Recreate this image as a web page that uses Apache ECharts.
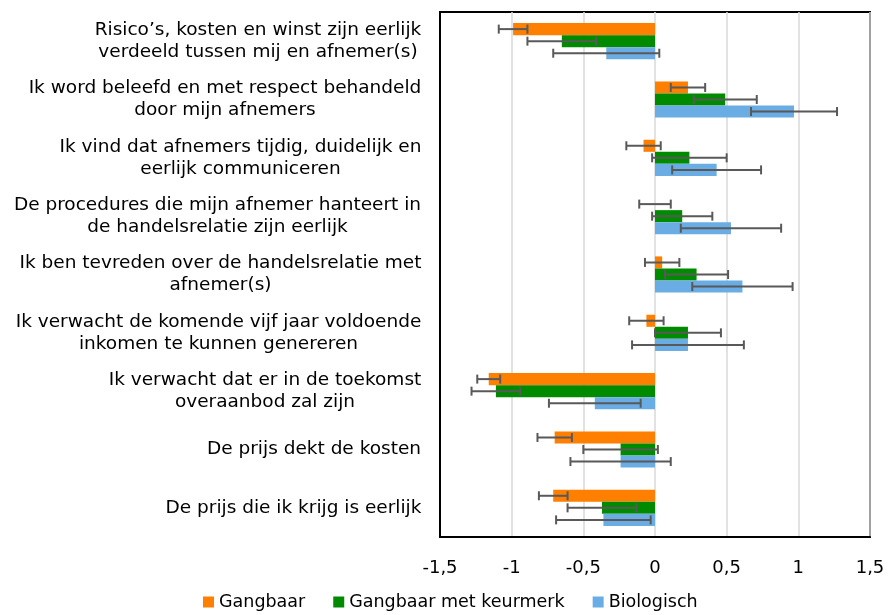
<!DOCTYPE html>
<html>
<head>
<meta charset="utf-8">
<script src="https://cdn.jsdelivr.net/npm/echarts@6/dist/echarts.min.js"></script>
<style>
  html, body { margin: 0; padding: 0; background: #fff; }
  #chart { width: 888px; height: 615px; }
</style>
</head>
<body>
<div id="chart"></div>
<script>
const categories = [
  'Risico’s, kosten en winst zijn eerlijk\nverdeeld tussen mij en afnemer(s)',
  'Ik word beleefd en met respect behandeld\ndoor mijn afnemers',
  'Ik vind dat afnemers tijdig, duidelijk en\neerlijk communiceren',
  'De procedures die mijn afnemer hanteert in\nde handelsrelatie zijn eerlijk',
  'Ik ben tevreden over de handelsrelatie met\nafnemer(s)',
  'Ik verwacht de komende vijf jaar voldoende\ninkomen te kunnen genereren',
  'Ik verwacht dat er in de toekomst\noveraanbod zal zijn',
  'De prijs dekt de kosten',
  'De prijs die ik krijg is eerlijk'
]
const seriesNames = ['Gangbaar', 'Gangbaar met keurmerk', 'Biologisch']
const gangbaar = [-0.99, 0.23, -0.08, 0.0, 0.05, -0.06, -1.16, -0.70, -0.71]
const keurmerk = [-0.65, 0.49, 0.24, 0.19, 0.29, 0.23, -1.11, -0.24, -0.37]
const biologisch = [-0.34, 0.97, 0.43, 0.53, 0.61, 0.23, -0.42, -0.24, -0.36]
const gangbaarErr = [0.10, 0.12, 0.12, 0.11, 0.12, 0.12, 0.08, 0.12, 0.10]
const keurmerkErr = [0.24, 0.22, 0.26, 0.21, 0.22, 0.23, 0.17, 0.26, 0.24]
const biologischErr = [0.37, 0.30, 0.31, 0.35, 0.35, 0.39, 0.32, 0.35, 0.33]
const xTicks = [-1.5, -1, -0.5, 0, 0.5, 1, 1.5]

const COLORS = ['#ff7f00', '#008a00', '#6aade4']
const FONT = 'DejaVu Sans, Verdana, sans-serif'
const LABEL_SIZE = 18.5
const GAP = 0.38

// per-label rich style so every multi-line label is centred in its own block
const ctx = document.createElement('canvas').getContext('2d')
ctx.font = LABEL_SIZE + 'px DejaVu Sans'
const rich = {}
categories.forEach((c, i) => {
  const w = Math.max(...c.split('\n').map(l => ctx.measureText(l).width))
  rich['r' + i] = { width: Math.ceil(w) + 1, align: 'center', fontSize: LABEL_SIZE, fontFamily: FONT, color: '#000', lineHeight: 22 }
})

const chart = echarts.init(document.getElementById('chart'), null, { renderer: 'canvas' })

const means = [gangbaar, keurmerk, biologisch]
const errs = [gangbaarErr, keurmerkErr, biologischErr]

const barSeries = seriesNames.map((name, s) => ({
  name,
  type: 'bar',
  barGap: '0%',
  barCategoryGap: (GAP * 100) + '%',
  itemStyle: { color: COLORS[s] },
  data: means[s]
}))

const errorSeries = seriesNames.map((name, s) => ({
  type: 'custom',
  name: name + ' err',
  z: 5,
  silent: true,
  encode: { x: [0, 1], y: 2 },
  data: means[s].map((m, i) => [m - errs[s][i], m + errs[s][i], i]),
  renderItem: (params, api) => {
    const lo = api.coord([api.value(0), api.value(2)])
    const hi = api.coord([api.value(1), api.value(2)])
    const band = api.size([0, 1])[1]
    const bw = band * (1 - GAP) / 3
    const y = lo[1] + (s - 1) * bw
    const cap = 4.5
    const style = { stroke: '#595959', lineWidth: 2 }
    return {
      type: 'group',
      children: [
        { type: 'line', shape: { x1: lo[0], y1: y, x2: hi[0], y2: y }, style },
        { type: 'line', shape: { x1: lo[0], y1: y - cap, x2: lo[0], y2: y + cap }, style },
        { type: 'line', shape: { x1: hi[0], y1: y - cap, x2: hi[0], y2: y + cap }, style }
      ]
    }
  }
}))

const option = {
  animation: false,
  textStyle: { fontFamily: FONT },
  legend: {
    data: seriesNames,
    left: 198,
    bottom: -1,
    icon: 'rect',
    itemWidth: 11,
    itemHeight: 11,
    itemGap: 28,
    textStyle: { color: '#000', fontSize: 17.5, fontFamily: FONT }
  },
  grid: {
    left: 440, right: 18, top: 12, bottom: 78,
    show: true, borderColor: '#000', borderWidth: 2, backgroundColor: 'transparent'
  },
  xAxis: {
    type: 'value',
    min: -1.5, max: 1.5, interval: 0.5,
    axisLine: { show: true, lineStyle: { color: '#000', width: 2 } },
    axisTick: { show: false },
    splitLine: { lineStyle: { color: '#d9d9d9', width: 1.5 } },
    axisLabel: {
      color: '#000', fontSize: 18, fontFamily: FONT, margin: 22,
      formatter: v => xTicks.includes(v) ? String(v).replace('.', ',') : ''
    }
  },
  yAxis: {
    type: 'category',
    inverse: true,
    data: categories,
    axisLine: { show: true, onZero: false, lineStyle: { color: '#000', width: 2 } },
    axisTick: { show: false },
    axisLabel: {
      margin: 18,
      align: 'right',
      formatter: (v, i) => v.split('\n').map(l => '{r' + i + '|' + l + '}').join('\n'),
      rich
    }
  },
  series: [...barSeries, ...errorSeries]
}

chart.setOption(option)
</script>
</body>
</html>
